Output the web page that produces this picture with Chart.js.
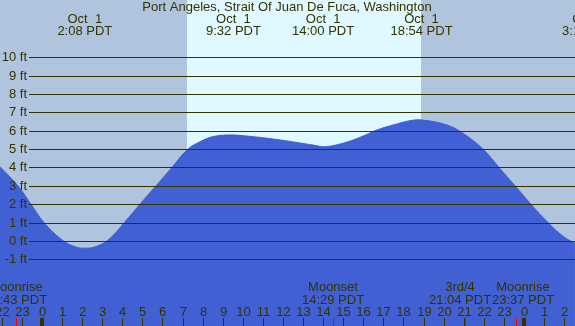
<!DOCTYPE html>
<html>
<head>
<meta charset="utf-8">
<script src="https://cdn.jsdelivr.net/npm/chart.js@4/dist/chart.umd.min.js"></script>
<style>
html,body{margin:0;padding:0;background:#b0c4de;overflow:hidden;}
#wrap{position:relative;width:575px;height:326px;}
</style>
</head>
<body>
<div id="wrap"><canvas id="c" width="575" height="326"></canvas></div>
<script>
// ---- data (hours relative to midnight Oct 1, local PDT) ----
const title = "Port Angeles, Strait Of Juan De Fuca, Washington";
const tideHours = [-2.09,-1.20,-0.55,0.10,0.90,1.50,2.14,2.80,3.39,4.10,4.88,5.68,6.47,7.27,7.87,8.52,9.36,10.21,11.85,13.50,14.09,14.99,15.84,16.68,17.48,18.33,18.97,20.17,20.97,21.96,22.76,23.56,24.35,25.20,25.95,26.54];
const tideFeet  = [4.04,3.0,2.0,1.0,0.14,-0.26,-0.40,-0.26,0.14,1.0,2.0,3.0,4.0,5.0,5.40,5.68,5.77,5.71,5.50,5.22,5.13,5.32,5.64,6.04,6.31,6.55,6.58,6.31,5.86,5.0,4.0,3.0,2.0,1.0,0.25,-0.13];
const footTicks = [-1,0,1,2,3,4,5,6,7,8,9,10];
const extremeHours = [2+8/60, 9+32/60, 14, 18+54/60, 27+16/60];
const extremeDates = ["Oct  1","Oct  1","Oct  1","Oct  1","Oct  2"];
const extremeTimes = ["2:08 PDT","9:32 PDT","14:00 PDT","18:54 PDT","3:16 PDT"];
const sunriseHour = 7+13/60;
const sunsetHour = 18+53/60;
const moonHours = [-24+22+43/60, 14+29/60, 21+4/60, 23+37/60];
const moonNames = ["Moonrise","Moonset","3rd/4","Moonrise"];
const moonTimes = ["22:43 PDT","14:29 PDT","21:04 PDT","23:37 PDT"];
const hourTicks = [-2,-1,0,1,2,3,4,5,6,7,8,9,10,11,12,13,14,15,16,17,18,19,20,21,22,23,24,25,26];

const NIGHT = "#b0c4de", DAY = "#e0f8ff", WATER = "#4060d4", INK = "#333300";
const FONT = "13px 'Liberation Sans', Arial, sans-serif";

const decor = {
  id: 'decor',
  beforeDatasetsDraw(chart) {
    const {ctx, chartArea:a, scales:{x}} = chart;
    ctx.save();
    ctx.fillStyle = NIGHT;
    ctx.fillRect(a.left, a.top, a.right-a.left, a.bottom-a.top);
    const x1 = Math.round(x.getPixelForValue(sunriseHour)), x2 = Math.round(x.getPixelForValue(sunsetHour));
    ctx.fillStyle = DAY;
    ctx.fillRect(x1, a.top, x2-x1, a.bottom-a.top);
    ctx.restore();
  },
  afterDatasetsDraw(chart) {
    const {ctx, chartArea:a, scales:{x,y}} = chart;
    ctx.save();
    ctx.strokeStyle = INK; ctx.lineWidth = 1;
    ctx.font = FONT; ctx.fillStyle = INK;
    ctx.textAlign = 'right'; ctx.textBaseline = 'middle';
    footTicks.forEach(f => {
      const py = Math.round(y.getPixelForValue(f)) + 0.5;
      ctx.beginPath(); ctx.moveTo(29, py); ctx.lineTo(a.right, py); ctx.stroke();
      ctx.fillText(f + " ft", 27, py);
    });
    ctx.textAlign = 'center';
    ctx.fillText(title, 287, 7);
    extremeHours.forEach((h,i) => {
      const px = x.getPixelForValue(h);
      ctx.fillText(extremeDates[i], px, 19);
      ctx.fillText(extremeTimes[i], px, 31);
    });
    hourTicks.forEach(h => {
      const px = Math.round(x.getPixelForValue(h));
      const hh = ((h % 24) + 24) % 24;
      ctx.fillStyle = INK;
      if (hh === 0) ctx.fillRect(px-2, 318, 4, 8);
      else ctx.fillRect(px, 318, 1, 8);
      ctx.fillText(String(hh), px + 0.5, 312);
    });
    const nudge = [0, 0, -5, 7];
    moonHours.forEach((h,i) => {
      const px = Math.round(x.getPixelForValue(h));
      ctx.fillStyle = "#ff0000";
      ctx.fillRect(px, 318, 1, 8);
      ctx.fillStyle = INK;
      ctx.fillText(moonNames[i], px + nudge[i], 287);
      ctx.fillText(moonTimes[i], px + nudge[i], 300);
    });
    ctx.restore();
  }
};

new Chart(document.getElementById('c'), {
  type: 'line',
  data: {
    datasets: [{
      data: tideHours.map((h,i) => ({x:h, y:tideFeet[i]})),
      fill: 'start',
      backgroundColor: WATER,
      borderColor: WATER,
      borderWidth: 1,
      pointRadius: 0,
      tension: 0.4
    }]
  },
  options: {
    responsive: false,
    devicePixelRatio: 1,
    animation: false,
    layout: {padding: 0},
    plugins: {legend:{display:false}, tooltip:{enabled:false}, title:{display:false}},
    scales: {
      x: {type:'linear', min:-42/20.08, max:(575-42)/20.08, display:false},
      y: {type:'linear', min:-(326-240.9)/18.36, max:240.9/18.36, display:false}
    }
  },
  plugins: [decor]
});
</script>
</body>
</html>
